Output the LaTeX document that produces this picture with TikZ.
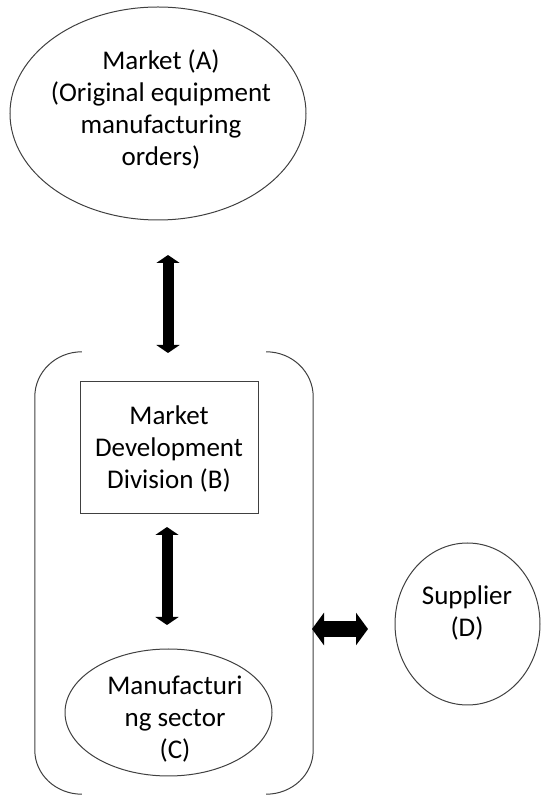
\documentclass[tikz,border=0pt]{standalone}
\usepackage{fontspec}
\setmainfont{Carlito}
\usetikzlibrary{arrows.meta,shapes.geometric}
\begin{document}
\begin{tikzpicture}[x=1pt,y=1pt,
  outline/.style={draw=black!75, line width=1pt},
  lbl/.style={align=center, font=\fontsize{27}{32}\selectfont, inner sep=0pt},
  vdbl/.style={line width=11pt, {Triangle[width=23pt,length=8pt]}-{Triangle[width=23pt,length=8pt]}},
  hdbl/.style={line width=16pt, {Triangle[width=32pt,length=12pt]}-{Triangle[width=32pt,length=12pt]}}]
\useasboundingbox (0,0) rectangle (542,796);
% Market (A)
\node[outline, ellipse, minimum width=296pt, minimum height=213pt, inner sep=0pt] (A) at (158,682.5) {};
\node[lbl] (At) at (161,686) {Market (A)\\(Original equipment\\manufacturing\\orders)};
% container
\node[minimum width=278pt, minimum height=442pt, inner sep=0pt] (S) at (174,223) {};
\draw[outline] ([xshift=47pt]S.north west) arc[start angle=90, end angle=180, x radius=47, y radius=45]
  -- ([yshift=44pt]S.south west) arc[start angle=180, end angle=270, x radius=47, y radius=44];
\draw[outline] ([xshift=-47pt]S.north east) arc[start angle=90, end angle=0, x radius=47, y radius=45]
  -- ([yshift=44pt]S.south east) arc[start angle=0, end angle=-90, x radius=47, y radius=44];
% Market Development Division (B)
\node[outline, rectangle, minimum width=178pt, minimum height=132pt, inner sep=0pt] (B) at (169,348) {};
\node[lbl] (Bt) at (169,347) {Market\\Development\\Division (B)};
% Manufacturing sector (C)
\node[outline, ellipse, minimum width=207pt, minimum height=127pt, inner sep=0pt] (C) at (168.5,83.5) {};
\node[lbl] (Ct) at (175,77) {Manufacturi\\ng sector\\(C)};
% Supplier (D)
\node[outline, ellipse, minimum width=145pt, minimum height=162pt, inner sep=0pt] (D) at (467.5,172) {};
\node[lbl] (Dt) at (467,183) {Supplier\\(D)};
% arrows
\coordinate (a1t) at (168,541);
\coordinate (a1b) at (168,443);
\draw[vdbl] (a1t) -- (a1b);
\coordinate (a2t) at (167,269);
\coordinate (a2b) at (167,171);
\draw[vdbl] (a2t) -- (a2b);
\coordinate (h1) at (312,167);
\coordinate (h2) at (368,167);
\draw[hdbl] (h1) -- (h2);
\end{tikzpicture}
\end{document}
